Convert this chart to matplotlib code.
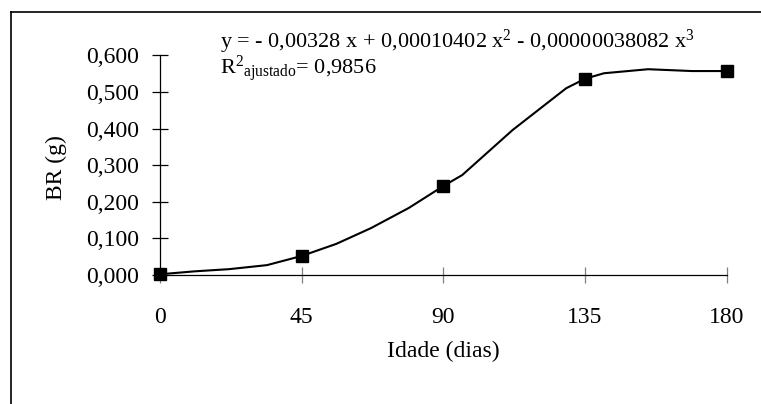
import matplotlib
matplotlib.use("Agg")
import matplotlib.pyplot as plt
from matplotlib.lines import Line2D

plt.rcParams['font.family'] = ['Liberation Serif', 'DejaVu Serif']
plt.rcParams['mathtext.fontset'] = 'custom'
plt.rcParams['mathtext.rm'] = 'Liberation Serif'
plt.rcParams['mathtext.it'] = 'Liberation Serif:italic'
plt.rcParams['mathtext.default'] = 'regular'

# --- data ---
idade = [0, 45, 90, 135, 180]
br = [0.003, 0.052, 0.243, 0.536, 0.557]

# smoothed line through the points (as drawn in the original)
curva_x = [0, 11, 22, 34, 45, 56, 67, 79, 90, 96, 112, 129, 135, 141, 155, 169, 180]
curva_y = [0.002, 0.010, 0.016, 0.027, 0.052, 0.085, 0.128, 0.183, 0.243, 0.273,
           0.396, 0.510, 0.536, 0.551, 0.562, 0.557, 0.557]

xticks = [0, 45, 90, 135, 180]
yticks = [0.0, 0.1, 0.2, 0.3, 0.4, 0.5, 0.6]
ylabels = ["0,000", "0,100", "0,200", "0,300", "0,400", "0,500", "0,600"]

fig = plt.figure(figsize=(7.61, 4.04), dpi=100)
ax = fig.add_axes([0.2102, 0.3193, 0.7448, 0.5438])

ax.plot(curva_x, curva_y, color='black', lw=1.5, zorder=2)
ax.plot(idade, br, ls='none', marker='s', ms=8, color='black', zorder=3, clip_on=False)

ax.set_xlim(0, 180)
ax.set_ylim(0, 0.6)
ax.set_xticks(xticks)
ax.set_xticklabels([str(v) for v in xticks])
ax.set_yticks(yticks)
ax.set_yticklabels(ylabels)

for s in ['top', 'right']:
    ax.spines[s].set_visible(False)
for s in ['left', 'bottom']:
    ax.spines[s].set_linewidth(0.9)

ax.tick_params(axis='y', direction='inout', length=11.5, width=0.9, color='black',
               labelsize=17, pad=9)
ax.tick_params(axis='x', direction='inout', length=11.5, width=0.9, color='#808080',
               labelsize=17, pad=17)

ax.set_ylabel("BR (g)", fontsize=17)
ax.yaxis.set_label_coords(-0.164, 0.489)
ax.set_xlabel("Idade (dias)", fontsize=17)
ax.xaxis.set_label_coords(0.5, -0.30)

fig.text(220 / 761, 1 - 48 / 404, r"y = - 0,00328 x + 0,00010402 x$^2$ - 0,00000038082 x$^3$",
         fontsize=16, ha='left', va='baseline')
fig.text(220 / 761, 1 - 74 / 404, r"R$^2{}_{ajustado}$= 0,9856",
         fontsize=16, ha='left', va='baseline')

# outer frame (top and left edges visible in the reference)
fig.add_artist(Line2D([11 / 761, 1], [1 - 12 / 404, 1 - 12 / 404], transform=fig.transFigure,
                      color='black', lw=1.2))
fig.add_artist(Line2D([11 / 761, 11 / 761], [0, 1 - 12 / 404], transform=fig.transFigure,
                      color='black', lw=1.2))

fig.savefig("out.png", dpi=100)
